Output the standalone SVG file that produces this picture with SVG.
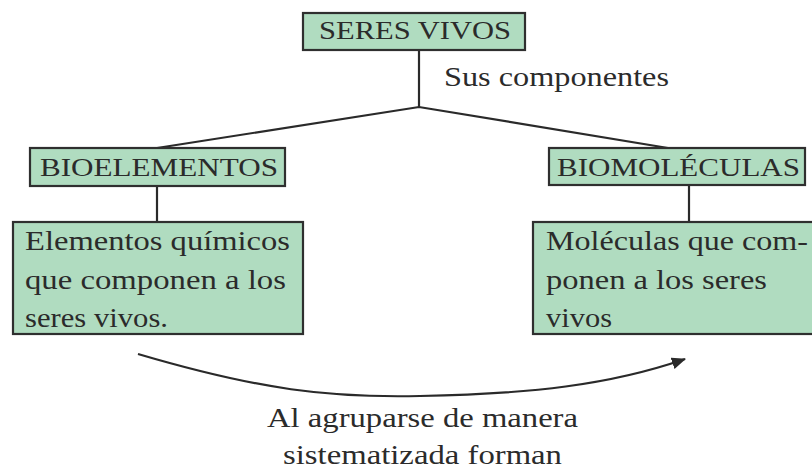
<svg xmlns="http://www.w3.org/2000/svg" width="812" height="471" viewBox="0 0 812 471">
<defs>
<style>
.box{fill:#b0dcc0;stroke:#2f2f2f;stroke-width:2.2}
.t{font-family:"Liberation Serif","Times New Roman",serif;fill:#2b2b2b;font-size:27px}
.h{font-family:"Liberation Serif","Times New Roman",serif;fill:#2b2b2b;font-size:26px}
.ln{fill:none;stroke:#2a2a2a;stroke-width:2.2}
</style>
<marker id="ah" markerWidth="8" markerHeight="8" refX="6" refY="2.75" orient="auto" markerUnits="strokeWidth">
<path d="M0,0 L6.5,2.75 L0,5.5 Z" fill="#2a2a2a"/>
</marker>
</defs>
<rect width="812" height="471" fill="#ffffff"/>
<g id="connectors">
<polyline class="ln" points="419,50 419,107"/>
<polyline class="ln" points="157,148 419,107 668,148"/>
<line class="ln" x1="157" y1="186" x2="157" y2="222"/>
<line class="ln" x1="689" y1="185" x2="689" y2="222"/>
<path class="ln" d="M138,354 C260,390 330,398 420,396 C530,394 610,385 685,359" marker-end="url(#ah)"/>
</g>
<g id="seres-vivos">
<rect class="box" x="303" y="13" width="222" height="37"/>
<text class="h" x="319" y="39" textLength="192" lengthAdjust="spacingAndGlyphs">SERES VIVOS</text>
</g>
<g id="label-componentes">
<text class="t" x="444" y="86" textLength="225" lengthAdjust="spacingAndGlyphs">Sus componentes</text>
</g>
<g id="bioelementos">
<rect class="box" x="30" y="148" width="255" height="38"/>
<text class="h" x="40" y="176" textLength="238" lengthAdjust="spacingAndGlyphs">BIOELEMENTOS</text>
</g>
<g id="biomoleculas">
<rect class="box" x="549" y="148" width="256" height="37"/>
<text class="h" x="557" y="176" textLength="243" lengthAdjust="spacingAndGlyphs">BIOMOLÉCULAS</text>
</g>
<g id="def-bioelementos">
<rect class="box" x="13" y="222" width="290" height="112"/>
<text class="t" x="25" y="250" textLength="265" lengthAdjust="spacingAndGlyphs">Elementos químicos</text>
<text class="t" x="25" y="289" textLength="261" lengthAdjust="spacingAndGlyphs">que componen a los</text>
<text class="t" x="25" y="327" textLength="143" lengthAdjust="spacingAndGlyphs">seres vivos.</text>
</g>
<g id="def-biomoleculas">
<rect class="box" x="533" y="222" width="290" height="112"/>
<text class="t" x="546" y="250" textLength="262" lengthAdjust="spacingAndGlyphs">Moléculas que com-</text>
<text class="t" x="546" y="289" textLength="221" lengthAdjust="spacingAndGlyphs">ponen a los seres</text>
<text class="t" x="546" y="327" textLength="66" lengthAdjust="spacingAndGlyphs">vivos</text>
</g>
<g id="label-forman">
<text class="t" x="267" y="427" textLength="311" lengthAdjust="spacingAndGlyphs">Al agruparse de manera</text>
<text class="t" x="283" y="464" textLength="279" lengthAdjust="spacingAndGlyphs">sistematizada forman</text>
</g>
</svg>
